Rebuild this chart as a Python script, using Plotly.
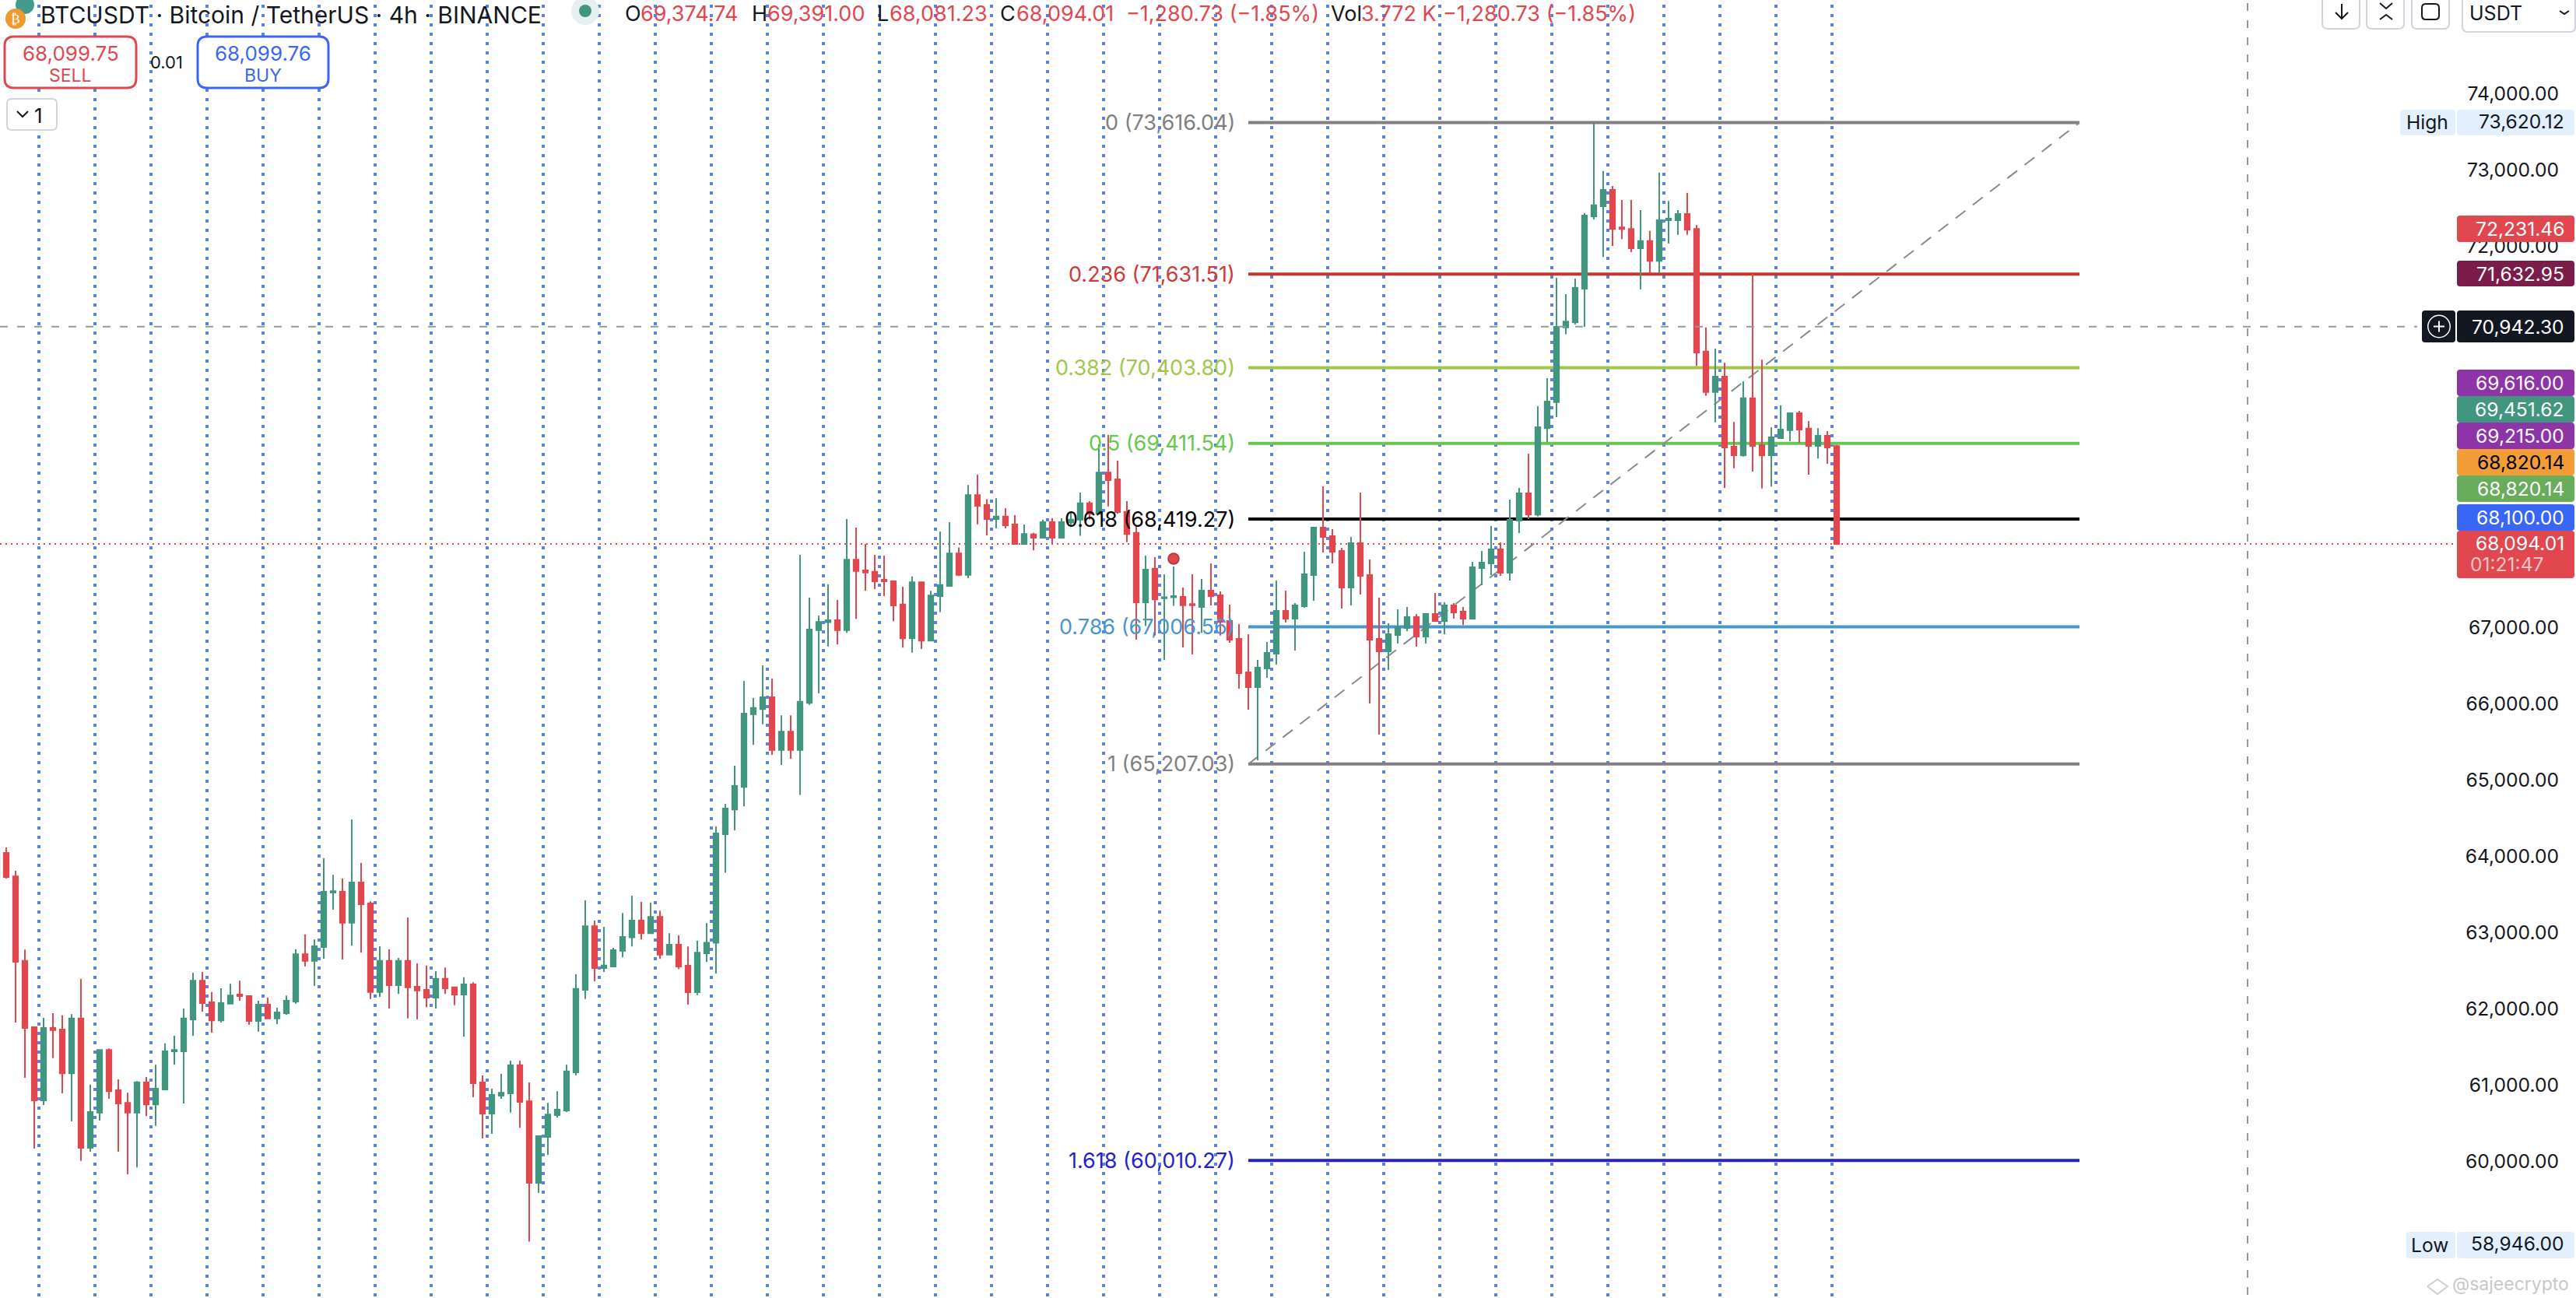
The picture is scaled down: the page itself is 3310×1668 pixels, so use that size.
import plotly.graph_objects as go

bar_index = list(range(-1, 197))
opens = [63723,
 64042,63735,62626,61758,60798,61746,61726,61153,61871,60177,
 60637,61460,60931,60766,60637,61032,60746,60940,61440,61440,
 61859,62368,62085,61847,62065,62186,62166,61839,62053,61871,
 61940,62093,62714,62626,62807,63521,63533,63126,63654,63380,
 62218,62626,62307,62626,62287,62247,62146,62392,62279,62186,
 62319,61032,60625,60859,60891,61258,60786,59717,60318,60605,
 60665,61165,62247,63082,62533,62553,62759,62935,63154,62990,
 63204,62708,62840,62562,62216,62726,62863,64288,64612,64908,
 65860,65928,66083,65391,65632,65391,66010,66962,67067,67094,
 66962,67887,67746,67727,67623,67604,67299,66857,67591,66826,
 67409,67541,67969,67686,68734,68602,68420,68452,68347,68092,
 68219,68174,68379,68174,68374,68411,68625,68488,69030,68939,
 68511,68238,67327,67768,67381,67395,67399,67304,67266,67481,
 67419,67083,66848,66409,66215,66460,66654,67215,67113,67277,
 67685,68307,68195,68001,67521,68103,67685,66848,66685,66899,
 66991,67134,66879,67175,67083,67287,67205,67113,67776,67838,
 68021,67715,68399,68756,68479,69611,69951,70931,71001,71438,
 72387,72520,72735,72243,72223,71969,72063,71805,72336,72336,
 72418,72223,70615,70084,70287,69369,69256,70002,69389,69256,
 69479,69584,69807,69604,69377,69510,69374.74]
highs = [64050,
 64114,63808,62775,61758,61880,61940,61912,61928,62392,61004,
 61460,61480,61073,60899,61052,61105,61266,61545,61646,62001,
 62472,62481,62218,62267,62327,62368,62174,62105,62146,62013,
 62174,62779,62973,62908,63973,63755,63707,64481,63909,63408,
 62819,62779,62666,63195,62594,62565,62493,62541,62287,62412,
 62347,61125,60952,61145,61319,61319,61032,60330,60766,60919,
 61266,62452,63420,63154,63074,62799,63255,63482,63400,63391,
 63286,62990,62963,62817,62890,63122,64389,64685,65186,66297,
 66074,66502,66329,65846,65846,67951,67390,67153,67563,67358,
 68420,68306,68092,67951,67941,67604,67532,67668,67591,67477,
 68256,68379,68046,68866,69003,68679,68693,68561,68470,68347,
 68238,68411,68433,68429,68511,68766,68654,69398,69521,69185,
 68654,68329,67941,67923,67695,67796,67521,67695,67634,67838,
 67470,67297,67042,66909,66573,66807,67613,67481,67317,67991,
 68317,68848,68287,68042,68185,68766,67889,67389,67052,67236,
 67266,67175,67185,67450,67328,67317,67266,67858,68001,68327,
 68113,68674,68827,69276,69900,70267,71583,71368,71571,72430,
 73620.12,72981,72785,72602,72602,72469,72196,72961,72590,72469,
 72696,72274,70931,70654,70470,69693,70224,71634,70509,69623,
 69908,69818,69838,69705,69611,69572,69391]
lows = [63720,
 63707,61819,61093,60165,60738,61351,60891,60524,60004,60125,
 60532,60819,60125,59830,59919,60593,60464,60940,61266,60758,
 61646,61960,61686,61819,62065,62105,61787,61698,61871,61799,
 61920,62065,62553,62299,62654,63299,62646,62827,62735,62126,
 62154,62001,62194,61871,61859,62021,62001,62194,62045,61633,
 60839,60298,60359,60819,60637,60439,58946,59584,60084,60572,
 60645,61125,62126,62360,62481,62553,62674,62817,62908,62990,
 62653,62708,62521,62052,62179,62612,62462,63783,64338,64653,
 65459,65728,65327,65195,65277,64803,65983,66133,66748,66775,
 66926,67112,67481,67500,67409,67081,66734,66666,66716,66826,
 67199,67541,67673,67645,68351,68206,68297,68297,68092,68092,
 68010,68165,68092,68174,68329,68201,68411,68488,68586,68488,
 68115,66839,67017,66894,66570,67281,66736,66644,66926,67287,
 66892,66797,66195,65919,65256,66338,66511,67062,66695,67256,
 67348,67980,67838,67246,67287,67430,66001,65593,66440,66787,
 66950,66746,66787,67083,66909,67113,67032,67113,67552,67685,
 67674,67613,68236,68419,68452,69428,69756,70841,70970,70939,
 72348,71856,72001,72090,71919,71431,71641,71641,72032,72145,
 72145,70427,70033,69686,68827,69084,69237,69041,68819,68846,
 69479,69440,69420,69002,69213,69143,68081.23]
closes = [64042,
 63727,62614,61746,60798,61746,61718,61153,61871,60177,60645,
 61460,60919,60758,60637,61032,60746,60952,61440,61460,61871,
 62368,62073,61847,62073,62174,62166,61839,62053,61871,61952,
 62105,62714,62626,62819,63533,63541,63126,63654,63368,62218,
 62626,62307,62626,62279,62239,62146,62392,62267,62186,62319,
 61024,60625,60871,60899,61258,60778,59717,60330,60613,60677,
 61178,62259,63082,62533,62565,62767,62940,63154,62990,63204,
 62708,62840,62553,62216,62735,62863,64297,64625,64921,65869,
 65942,66083,65391,65632,65391,66024,66971,67071,67094,66962,
 67887,67737,67718,67604,67604,67286,66857,67591,66826,67418,
 67554,67969,67686,68734,68593,68420,68452,68338,68092,68224,
 68174,68379,68174,68379,68411,68625,68488,69030,68930,68511,
 68224,67327,67755,67367,67395,67409,67290,67290,67481,67409,
 67069,66838,66399,66215,66471,66664,67215,67113,67287,67695,
 68307,68185,67991,67521,68103,67674,66838,66685,66909,67001,
 67134,66879,67175,67083,67287,67195,67113,67787,67848,68021,
 67715,68409,68756,68480,69623,69959,70939,71009,71450,72399,
 72532,72735,72223,72223,71969,72063,71805,72336,72356,72418,
 72215,70603,70084,70287,69358,69256,70002,69377,69256,69490,
 69592,69807,69592,69377,69510,69358,68094.01]

fib_ratios = ["0", "0.236", "0.382", "0.5", "0.618", "0.786", "1", "1.618"]
fib_prices = [73616.04, 71631.51, 70403.80, 69411.54, 68419.27, 67006.56, 65207.03, 60010.27]
fib_line_colors = ["#808080", "#C0392F", "#A2C64C", "#66C84C", "#000000", "#4896CE", "#808080", "#2222CC"]
fib_text_colors = ["#808080", "#D0383A", "#A2C64C", "#66C84C", "#000000", "#4896CE", "#808080", "#2222CC"]
fib_start_bar, fib_end_bar = 133, 222

day_lines = [3.5 + 6 * k for k in range(33)]
tick_prices = [74000, 73000, 72000, 67000, 66000, 65000, 64000, 63000, 62000, 61000, 60000]
crosshair_price = 70942.30
last_price = 68094.01
alert_bar, alert_price = 125, 67900

UP, DOWN = "#42967F", "#E0474F"
W, H = 3310, 1668
FONT = "Inter, Roboto, sans-serif"
INK = "#131722"
TAG = 24.6

def px(x): return x / W
def py(y): return 1 - y / H

shapes, ann = [], []

def text(x, y, s, color=INK, size=25, anchor="left", font=FONT):
    ann.append(dict(xref="paper", yref="paper", x=px(x), y=py(y), text=s, showarrow=False,
                    xanchor=anchor, yanchor="middle", font=dict(family=font, size=size, color=color),
                    borderpad=0, borderwidth=0))

def rrect(x0, y0, x1, y1, fill=None, line=None, lw=0, r=5, layer="above"):
    path = (f"M{px(x0+r)},{py(y0)} L{px(x1-r)},{py(y0)} Q{px(x1)},{py(y0)} {px(x1)},{py(y0+r)} "
            f"L{px(x1)},{py(y1-r)} Q{px(x1)},{py(y1)} {px(x1-r)},{py(y1)} L{px(x0+r)},{py(y1)} "
            f"Q{px(x0)},{py(y1)} {px(x0)},{py(y1-r)} L{px(x0)},{py(y0+r)} Q{px(x0)},{py(y0)} {px(x0+r)},{py(y0)} Z")
    shapes.append(dict(type="path", xref="paper", yref="paper", path=path, layer=layer,
                       fillcolor=fill or "rgba(0,0,0,0)",
                       line=dict(color=line or "rgba(0,0,0,0)", width=lw)))

def circle(cx, cy, r, fill, layer="above"):
    shapes.append(dict(type="circle", xref="paper", yref="paper", layer=layer,
                       x0=px(cx-r), x1=px(cx+r), y0=py(cy+r), y1=py(cy-r),
                       fillcolor=fill, line=dict(width=0)))

def seg(pts, color, lw=2):
    path = "M" + " L".join(f"{px(a)},{py(b)}" for a, b in pts)
    shapes.append(dict(type="path", xref="paper", yref="paper", path=path, layer="above",
                       line=dict(color=color, width=lw)))

# day separators (below candles)
for d in day_lines:
    shapes.append(dict(type="line", xref="x", yref="paper", x0=d, x1=d, y0=py(6), y1=0, layer="below",
                       line=dict(color="#5B83E6", width=4, dash="4px,8px")))

# fib levels
for r, p, lc, tc in zip(fib_ratios, fib_prices, fib_line_colors, fib_text_colors):
    shapes.append(dict(type="line", xref="x", yref="y", x0=fib_start_bar, x1=fib_end_bar, y0=p, y1=p,
                       layer="below", line=dict(color=lc, width=4)))
    ann.append(dict(xref="paper", yref="y", x=px(1589), y=p, text=f"{r} ({p:,.2f})", showarrow=False,
                    xanchor="right", yanchor="middle", font=dict(family=FONT, size=27, color=tc)))
shapes.append(dict(type="line", xref="x", yref="y", x0=fib_start_bar, x1=fib_end_bar,
                   y0=fib_prices[6], y1=fib_prices[0], layer="below",
                   line=dict(color="#8A8A8A", width=2, dash="16px,12px")))

# current price + crosshair
shapes.append(dict(type="line", xref="paper", yref="y", x0=0, x1=px(3155), y0=last_price, y1=last_price,
                   layer="below", line=dict(color=DOWN, width=2, dash="2px,5px")))
shapes.append(dict(type="line", xref="paper", yref="y", x0=0, x1=px(3106), y0=crosshair_price, y1=crosshair_price,
                   layer="above", line=dict(color="#9598A1", width=2, dash="10px,12px")))
shapes.append(dict(type="line", xref="paper", yref="paper", x0=px(2888), x1=px(2888), y0=py(4), y1=0,
                   layer="above", line=dict(color="#9598A1", width=2, dash="10px,12px")))

# price tags
tags = [("72,231.46", 277, 311, DOWN, "white"), ("71,632.95", 335, 368, "#7B1C4B", "white"),
        ("70,942.30", 399, 440, INK, "white"), ("69,616.00", 475, 509, "#8E33A8", "white"),
        ("69,451.62", 509, 543, UP, "white"), ("69,215.00", 543, 577, "#8E33A8", "white"),
        ("68,820.14", 577, 611, "#F29D38", "black"), ("68,820.14", 611, 645, "#67AD5B", "white"),
        ("68,100.00", 648, 682, "#3A66F6", "white")]
for s, y0, y1, c, tc in tags:
    rrect(3157, y0, 3308, y1, fill=c, r=4)
    text(3295, (y0+y1)/2, s, tc, TAG, "right")
rrect(3157, 682, 3308, 743, fill=DOWN, r=4)
text(3295, 698, "68,094.01", "white", TAG, "right")
text(3174, 725, "01:21:47", "#F5C6C8", TAG, "left")
rrect(3112, 399, 3155, 440, fill=INK, r=4)
circle(3134, 419.5, 15, "white")
circle(3134, 419.5, 13.5, INK)
seg([(3127, 419.5), (3141, 419.5)], "white", 2)
seg([(3134, 412.5), (3134, 426.5)], "white", 2)
rrect(3084, 141, 3155, 174, fill="#E3EFFD", r=4)
rrect(3157, 141, 3308, 174, fill="#E3EFFD", r=4)
text(3146, 157, "High", "#131722", TAG, "right")
text(3295, 156, "73,620.12", "#131722", TAG, "right")
rrect(3092, 1583, 3155, 1617, fill="#E3EFFD", r=4)
rrect(3157, 1583, 3308, 1617, fill="#E3EFFD", r=4)
text(3146, 1600, "Low", "#131722", TAG, "right")
text(3295, 1598, "58,946.00", "#131722", TAG, "right")

# header
circle(32, 6, 12, "#429B8C")
circle(20, 24, 13, "#F0992F")
text(20, 24, "₿", "white", 17, "center", "DejaVu Sans")
text(52, 18.5, "BTCUSDT · Bitcoin / TetherUS · 4h · BINANCE", INK, 30)
circle(752, 14, 18, "#E4F1EE")
circle(752, 14, 8, UP)
for label, lx, val, vx in [("O", 803, "69,374.74", 823), ("H", 966, "69,391.00", 986),
                           ("L", 1127, "68,081.23", 1143), ("C", 1285, "68,094.01", 1306)]:
    text(lx, 17, label, INK, 27)
    text(vx, 17, val, DOWN, 27)
text(1447, 17, "−1,280.73 (−1.85%)", DOWN, 27)
text(1710, 17, "Vol", INK, 27)
text(1749, 17, "3.772 K", DOWN, 27)
text(1854, 17, "−1,280.73 (−1.85%)", DOWN, 27)

# sell / buy
rrect(6, 47, 175, 113, fill="white", line=DOWN, lw=3, r=12)
text(90.5, 69, "68,099.75", DOWN, 26, "center")
text(90.5, 97, "SELL", DOWN, 23, "center")
rrect(254, 47, 422, 113, fill="white", line="#3A66F6", lw=3, r=12)
text(338, 69, "68,099.76", "#3A66F6", 26, "center")
text(338, 97, "BUY", "#3A66F6", 23, "center")
text(214, 80, "0.01", INK, 22, "center")
rrect(9, 127, 73, 167, fill="white", line="#D1D4DC", lw=2, r=6)
seg([(22, 143), (29, 150), (36, 143)], INK, 2)
text(44, 148, "1", INK, 26)

# toolbar
for x0, x1 in [(2984, 3032), (3041, 3089), (3099, 3147)]:
    rrect(x0, -12, x1, 37, fill="white", line="#D1D4DC", lw=2, r=7)
rrect(3164, -12, 3309, 41, fill="white", line="#D1D4DC", lw=2, r=7)
seg([(3009, 5), (3009, 24)], INK, 2)
seg([(3001, 16), (3009, 24), (3017, 16)], INK, 2)
seg([(3058, 4), (3066, 11), (3074, 4)], INK, 2)
seg([(3058, 25), (3066, 19), (3074, 25)], INK, 2)
rrect(3112, 5, 3134, 25, line=INK, lw=2, r=5)
text(3173, 17, "USDT", INK, 25)
seg([(3289, 14), (3295, 18), (3301, 14)], INK, 2)

# watermark
seg([(3119, 1653), (3132, 1644), (3145, 1653), (3132, 1663), (3119, 1653)], "#CFCFCF", 2)
text(3151, 1650, "@sajeecrypto", "#C8C8C8", 23)

fig = go.Figure()
fig.add_trace(go.Candlestick(
    x=bar_index, open=opens, high=highs, low=lows, close=closes,
    increasing=dict(line=dict(color=UP, width=2), fillcolor=UP),
    decreasing=dict(line=dict(color=DOWN, width=2), fillcolor=DOWN),
    whiskerwidth=0, hoverinfo="skip", showlegend=False))
fig.add_trace(go.Scatter(x=[alert_bar], y=[alert_price], mode="markers", hoverinfo="skip", showlegend=False,
                         marker=dict(size=14, color=DOWN, line=dict(color="#B03038", width=1.5))))

fig.update_layout(
    width=W, height=H, margin=dict(l=0, r=0, t=0, b=0), paper_bgcolor="white", plot_bgcolor="white",
    boxgap=0.25, shapes=shapes, annotations=ann, showlegend=False, hovermode=False, dragmode=False,
    xaxis=dict(range=[-0.6667, 275.17], visible=False, rangeslider=dict(visible=False), fixedrange=True),
    yaxis=dict(range=[58207, 75224], side="right", ticklabelposition="inside", ticklabelstandoff=19,
               tickmode="array", tickvals=tick_prices, ticktext=[f"{t:,.2f}" for t in tick_prices],
               showgrid=False, zeroline=False, showline=False, ticks="", fixedrange=True,
               tickfont=dict(family=FONT, size=TAG, color=INK)),
)
fig.write_html("out.html", config=dict(displayModeBar=False, responsive=False),
               post_script="document.body.style.margin='0';document.body.style.overflow='hidden';")
